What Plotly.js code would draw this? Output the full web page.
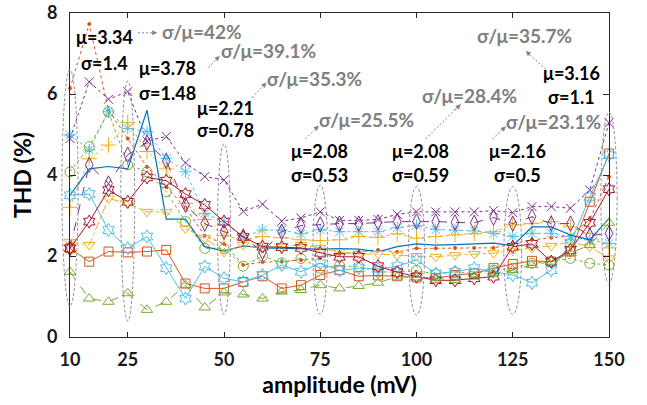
<!DOCTYPE html>
<html>
<head>
<meta charset="utf-8">
<script src="https://cdn.plot.ly/plotly-3.0.1.min.js"></script>
<style>html,body{margin:0;padding:0;background:#fff;}#chart{width:647px;height:405px;}</style>
</head>
<body>
<div id="chart"></div>
<script>
// amplitude (mV)
var amp = [10,15,20,25,30,35,40,45,50,55,60,65,70,75,80,85,90,95,100,105,110,115,120,125,130,135,140,145,150];

// THD (%) series
var purpleX   = [4.9,6.3,5.87,6.06,4.84,4.95,4.3,3.96,3.88,3.1,3.28,2.86,2.94,3.09,2.88,2.88,2.9,3.03,3.09,3.09,3.09,3.09,3.12,3.07,3.22,3.22,3.18,3.63,5.29];
var purpleDia = [2.19,4.25,3.79,4.5,4.8,4.35,3.26,2.8,2.6,2.48,2.1,2.6,2.75,2.78,2.8,2.8,2.83,2.85,2.85,2.85,2.83,2.82,2.95,2.8,2.97,2.8,2.8,2.5,2.56];
var ltblueAst = [4.99,4.62,5.56,5.15,5.07,4.41,4.08,3.05,2.85,2.47,2.64,2.64,2.55,2.65,2.6,2.6,2.6,2.7,2.75,2.65,2.64,2.62,2.56,2.48,2.56,2.56,2.48,2.4,2.31];
var yellowPlus= [3.2,4.4,4.74,5.3,4.58,4.15,3.3,2.9,2.5,2.4,2.48,2.45,2.4,2.38,2.4,2.48,2.46,2.55,2.44,2.48,2.52,2.55,2.6,2.77,2.8,2.85,2.72,2.56,2.2];
var greenCirc = [4.08,4.7,5.56,4.25,4.08,3.59,2.85,2.19,2.19,1.75,2.0,1.83,1.94,1.7,1.76,1.74,1.61,1.6,1.64,1.55,1.6,1.57,1.65,1.7,1.82,1.86,1.94,1.82,1.78];
var blueLine  = [3.5,4.15,4.21,4.15,5.6,2.91,2.91,2.23,2.12,2.25,2.2,2.19,2.17,2.17,2.18,2.17,2.1,2.23,2.3,2.27,2.28,2.3,2.32,2.25,2.72,2.72,2.52,2.4,2.93];
var yellowTri = [2.35,2.27,3.42,3.3,3.09,3.09,2.68,2.44,2.1,2.27,2.2,2.23,2.27,2.2,2.1,2.05,2.05,2.02,2.0,1.98,2.02,2.05,2.07,2.13,2.2,2.25,2.35,2.23,1.94];
var redStar   = [2.19,2.85,3.63,3.34,3.94,3.86,3.53,3.26,2.85,2.47,2.23,2.22,2.2,2.08,1.98,1.98,1.75,1.6,1.49,1.4,1.4,1.45,1.49,2.23,2.3,1.86,2.15,2.82,3.65];
var orangeSq  = [2.19,1.86,2.11,2.09,2.11,2.15,1.32,1.2,1.2,1.36,1.5,1.2,1.28,1.53,1.65,1.5,1.52,1.5,1.47,1.45,1.53,1.57,1.7,1.8,1.88,1.86,2.11,3.34,4.53];
var ltblueHex = [3.5,3.53,2.64,2.19,2.48,1.7,0.95,1.74,1.45,1.36,1.53,1.78,1.61,1.82,1.64,1.7,1.68,1.75,1.9,1.57,1.61,1.7,1.61,1.53,1.34,1.65,2.31,3.46,4.49];
var greenTri  = [1.61,0.95,0.87,1.08,0.67,0.87,1.28,0.73,1.1,1.05,0.95,1.12,1.16,1.28,1.2,1.26,1.34,1.49,1.47,1.45,1.41,1.49,1.57,1.65,1.78,1.86,2.07,2.27,2.82];
var orangeDot = [6.14,7.73,5.6,4.9,4.2,3.7,3.2,2.5,2.3,1.78,1.85,1.86,1.9,1.95,2.05,2.1,2.15,2.1,2.19,2.19,2.2,2.2,2.2,2.3,2.4,2.45,2.5,2.9,3.96];

// tick labels
var xTicks = [10,25,50,75,100,125,150];
var yTicks = [0,2,4,6,8];

// statistics groups (ellipses)
var grpX      = [10,25,50,75,100,125,150];
var grpHalfW  = [2.1,1.8,1.7,1.9,2.1,2.3,2.1];
var grpTop    = [6.6,6.32,4.77,3.75,3.71,3.71,5.55];
var grpBottom = [0.76,0.39,0.56,0.56,0.54,0.56,1.33];

var muText  = ['μ=3.34','μ=3.78','μ=2.21','μ=2.08','μ=2.08','μ=2.16','μ=3.16'];
var sdText  = ['σ=1.4','σ=1.48','σ=0.78','σ=0.53','σ=0.59','σ=0.5','σ=1.1'];
var lblX    = [19.06,35.24,50.33,74.92,100.94,126.19,140.37];
var muY     = [7.4,6.63,5.65,4.6,4.6,4.6,6.52];
var sdY     = [6.76,6.02,5.12,4.0,4.0,4.0,5.92];

var cvText  = ['σ/μ=42%','σ/μ=39.1%','σ/μ=35.3%','σ/μ=25.5%','σ/μ=28.4%','σ/μ=35.7%','σ/μ=23.1%'];
var cvX     = [44.35,61.52,73.49,87.02,113.82,128.14,135.55];
var cvY     = [7.55,7.08,6.38,5.36,5.96,7.45,5.32];

var arrTailX = [27.69,45.99,57.28,71.15,102.37,133.6,119.73];
var arrTailY = [7.51,6.65,5.91,4.89,4.89,6.61,4.89];
var arrHeadX = [32.64,48.85,61.0,74.61,111.48,128.4,123.19];
var arrHeadY = [7.51,6.94,6.28,5.22,5.75,7.06,5.2];

var C = {blue:'#0072BD', orange:'#D95319', yellow:'#EDB120', purple:'#7E2F8E', green:'#77AC30', ltblue:'#4DBEEE', red:'#A2142F'};

function tr(y, color, dash, symbol, size){
  return {x: amp, y: y, type:'scatter', mode:'lines+markers',
    line:{color:color, width:1, dash:dash},
    marker:{symbol:symbol, size:size, color:color, line:{color:color, width:1}},
    cliponaxis:false, hoverinfo:'skip'};
}

var traces = [
  tr(orangeDot, C.orange, 'dot', 'circle', 3),
  tr(purpleX, C.purple, 'dot', 'x-thin-open', 9),
  tr(ltblueAst, C.ltblue, 'dot', 'asterisk-open', 10),
  tr(yellowPlus, C.yellow, 'dot', 'cross-thin-open', 11),
  tr(greenCirc, C.green, 'dot', 'circle-open', 10),
  tr(purpleDia, C.purple, 'dash', 'diamond-tall-open', 11),
  {x: amp, y: blueLine, type:'scatter', mode:'lines', line:{color:C.blue, width:1.2}, cliponaxis:false, hoverinfo:'skip'},
  tr(yellowTri, C.yellow, 'dashdot', 'triangle-down-open', 10),
  tr(orangeSq, C.orange, 'solid', 'square-open', 9),
  tr(ltblueHex, C.ltblue, 'solid', 'hexagram-open', 10),
  tr(redStar, C.red, 'solid', 'hexagram-open', 10),
  tr(greenTri, C.green, 'dash', 'triangle-up-open', 10)
];

var X0 = 10, X1 = 150, Y0 = 0, Y1 = 8;
var shapes = [];
for (var i = 0; i < grpX.length; i++) {
  shapes.push({type:'circle', xref:'paper', yref:'paper',
    x0:(grpX[i]-grpHalfW[i]-X0)/(X1-X0), x1:(grpX[i]+grpHalfW[i]-X0)/(X1-X0),
    y0:(grpBottom[i]-Y0)/(Y1-Y0), y1:(grpTop[i]-Y0)/(Y1-Y0),
    line:{color:'#8c8c8c', width:1, dash:'3px,2px'}, layer:'above'});
}
for (var j = 0; j < arrTailX.length; j++) {
  shapes.push({type:'line', xref:'x', yref:'y', x0:arrTailX[j], y0:arrTailY[j], x1:arrHeadX[j], y1:arrHeadY[j],
    line:{color:'#7f7f7f', width:1, dash:'2px,2px'}, layer:'above'});
}

var FONT = 'Lato, "Noto Sans", sans-serif';
var ann = [];
for (var k = 0; k < muText.length; k++) {
  ann.push({x:lblX[k], y:muY[k], xref:'x', yref:'y', text:'<b>'+muText[k]+'</b>', showarrow:false,
    font:{family:FONT, size:18, color:'#000'}});
  ann.push({x:lblX[k], y:sdY[k], xref:'x', yref:'y', text:'<b>'+sdText[k]+'</b>', showarrow:false,
    font:{family:FONT, size:18, color:'#000'}});
}
for (var m = 0; m < cvText.length; m++) {
  ann.push({x:cvX[m], y:cvY[m], xref:'x', yref:'y', text:'<b>'+cvText[m]+'</b>', showarrow:false,
    font:{family:FONT, size:19, color:'#808080'}});
}
for (var n = 0; n < arrTailX.length; n++) {
  var f = 0.22;
  ann.push({x:arrHeadX[n], y:arrHeadY[n], xref:'x', yref:'y', axref:'x', ayref:'y',
    ax:arrHeadX[n] - f*(arrHeadX[n]-arrTailX[n]), ay:arrHeadY[n] - f*(arrHeadY[n]-arrTailY[n]),
    text:'', showarrow:true, arrowhead:2, arrowsize:1, arrowwidth:1, arrowcolor:'#7f7f7f'});
}

var axisFont = {family:FONT, size:18, color:'#1a1a1a', weight:'bold'};
var layout = {
  width:647, height:405,
  margin:{l:70, r:38, t:13, b:68},
  paper_bgcolor:'#fff', plot_bgcolor:'#fff',
  showlegend:false,
  xaxis:{range:[X0,X1], tickmode:'array', tickvals:xTicks, ticktext:xTicks.map(String),
    ticks:'inside', ticklen:5, tickcolor:'#262626', showline:true, linecolor:'#262626', linewidth:1,
    mirror:'ticks', showgrid:false, zeroline:false, tickfont:axisFont, ticklabelstandoff:6,
    ticklabeloverflow:'allow',
    title:{text:'amplitude (mV)', font:{family:FONT, size:23, color:'#000', weight:'bold'}, standoff:3}},
  yaxis:{range:[Y0,Y1], tickmode:'array', tickvals:yTicks, ticktext:yTicks.map(String),
    ticks:'inside', ticklen:6, tickcolor:'#262626', showline:true, linecolor:'#262626', linewidth:1,
    mirror:'ticks', showgrid:false, zeroline:false, tickfont:axisFont, ticklabelstandoff:8,
    ticklabeloverflow:'allow',
    title:{text:'THD (%)', font:{family:FONT, size:23, color:'#000', weight:'bold'}, standoff:8}},
  shapes:shapes,
  annotations:ann
};

Plotly.newPlot('chart', traces, layout, {staticPlot:true, displayModeBar:false});
</script>
</body>
</html>
